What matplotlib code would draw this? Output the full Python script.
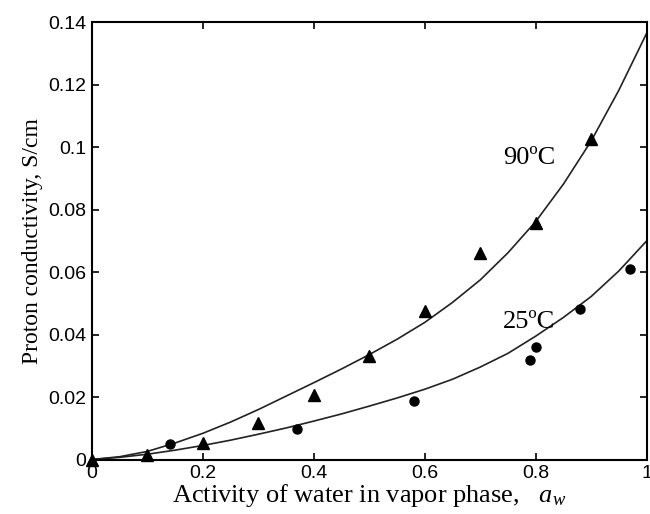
import matplotlib
matplotlib.use("Agg")
import matplotlib.pyplot as plt

plt.rcParams["mathtext.fontset"] = "custom"
plt.rcParams["mathtext.it"] = "Liberation Serif:italic"
plt.rcParams["mathtext.rm"] = "Liberation Serif"

# Measured data: 90 °C (triangles)
aw_90 = [0.0, 0.1, 0.2, 0.3, 0.4, 0.5, 0.6, 0.7, 0.8, 0.9]
sigma_90 = [0.0, 0.0013, 0.0054, 0.0118, 0.0208, 0.0330, 0.0476, 0.0660, 0.0756, 0.1025]

# Measured data: 25 °C (circles)
aw_25 = [0.14, 0.37, 0.58, 0.79, 0.80, 0.88, 0.97]
sigma_25 = [0.0050, 0.0099, 0.0186, 0.0320, 0.0359, 0.0482, 0.0609]

# Model curves
aw_curve = [0.0, 0.05, 0.1, 0.15, 0.2, 0.25, 0.3, 0.35, 0.4, 0.45, 0.5,
            0.55, 0.6, 0.65, 0.7, 0.75, 0.8, 0.85, 0.9, 0.95, 1.0]
fit_90 = [0.0, 0.0009, 0.0026, 0.0053, 0.0084, 0.0120, 0.0160, 0.0203, 0.0246, 0.0290, 0.0336,
          0.0385, 0.0439, 0.0503, 0.0575, 0.0662, 0.0762, 0.0882, 0.1020, 0.1183, 0.1365]
fit_25 = [0.0, 0.0007, 0.0017, 0.0030, 0.0045, 0.0062, 0.0081, 0.0101, 0.0123, 0.0146, 0.0171,
          0.0197, 0.0225, 0.0257, 0.0296, 0.0340, 0.0395, 0.0455, 0.0522, 0.0604, 0.0700]

x_ticks = [0, 0.2, 0.4, 0.6, 0.8, 1]
x_tick_labels = ["0", "0.2", "0.4", "0.6", "0.8", "1"]
y_ticks = [0, 0.02, 0.04, 0.06, 0.08, 0.1, 0.12, 0.14]
y_tick_labels = ["0", "0.02", "0.04", "0.06", "0.08", "0.1", "0.12", "0.14"]

fig = plt.figure(figsize=(6.5, 5.14), dpi=100)
ax = fig.add_axes([0.1415, 0.106, 0.8535, 0.851])

ax.plot(aw_curve, fit_90, color="#222222", lw=1.2)
ax.plot(aw_curve, fit_25, color="#222222", lw=1.2)
ax.plot(aw_90, sigma_90, linestyle="none", marker="^", color="black", markersize=8.5, clip_on=False, zorder=5)
ax.plot(aw_25, sigma_25, linestyle="none", marker="o", color="black", markersize=6.5, clip_on=False, zorder=5)

ax.set_xlim(0, 1)
ax.set_ylim(0, 0.14)
ax.set_xticks(x_ticks)
ax.set_xticklabels(x_tick_labels)
ax.set_yticks(y_ticks)
ax.set_yticklabels(y_tick_labels)

for s in ax.spines.values():
    s.set_linewidth(1.5)
ax.tick_params(direction="in", length=5, width=1.2, top=True, right=True,
               labelsize=14, pad=4)
for lab in ax.get_xticklabels() + ax.get_yticklabels():
    lab.set_fontfamily("Liberation Sans")

serif = "Liberation Serif"
ax.set_xlabel("Activity of water in vapor phase,   $\\mathit{a}_{\\mathit{w}}$",
              fontfamily=serif, fontsize=19, labelpad=0)
ax.set_ylabel("Proton conductivity, S/cm", fontfamily=serif, fontsize=17, labelpad=4)

ax.text(0.788, 0.0965, "90ºC", fontfamily=serif, fontsize=19, ha="center", va="center")
ax.text(0.788, 0.0440, "25ºC", fontfamily=serif, fontsize=19, ha="center", va="center")

fig.savefig("out.png", dpi=100)
